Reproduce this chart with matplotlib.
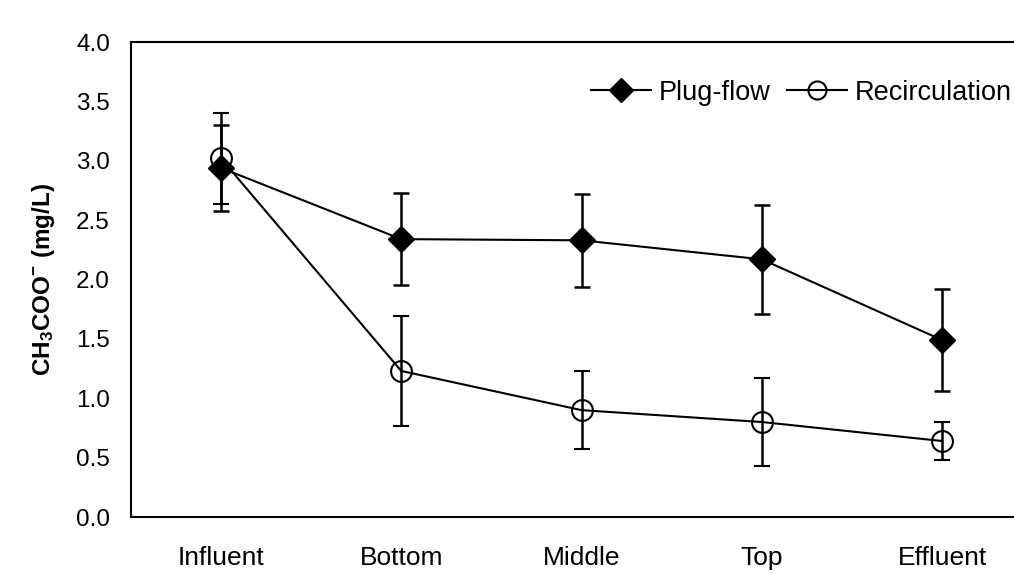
import matplotlib
matplotlib.use("Agg")
import matplotlib.pyplot as plt
from matplotlib.lines import Line2D
import numpy as np

categories = ["Influent", "Bottom", "Middle", "Top", "Effluent"]
plug_flow = [2.94, 2.34, 2.33, 2.17, 1.49]
plug_err = [0.36, 0.39, 0.39, 0.46, 0.43]
recirc = [3.02, 1.23, 0.90, 0.80, 0.64]
recirc_err = [0.38, 0.46, 0.33, 0.37, 0.16]
yticks = [0.0, 0.5, 1.0, 1.5, 2.0, 2.5, 3.0, 3.5, 4.0]

plt.rcParams['font.family'] = ['Liberation Sans', 'DejaVu Sans']
plt.rcParams['mathtext.default'] = 'regular'

fig = plt.figure(figsize=(10.14, 5.73), dpi=100)
ax = fig.add_axes([0.129, 0.0977, 0.889, 0.829])

x = np.arange(len(categories))
ax.errorbar(x, plug_flow, yerr=plug_err, color='black', marker='D', ms=13,
            mfc='black', mec='black', lw=1.5, elinewidth=1.8, capsize=6,
            capthick=1.8, zorder=3)
ax.errorbar(x, recirc, yerr=recirc_err, color='black', marker='o', ms=15,
            mfc='none', mec='black', mew=1.5, lw=1.5, elinewidth=1.8,
            capsize=6, capthick=1.8, zorder=3)

ax.set_xlim(-0.5, 4.5)
ax.set_ylim(0, 4.0)
ax.set_yticks(yticks)
ax.set_yticklabels([f"{v:.1f}" for v in yticks], fontsize=17.5)
ax.set_xticks(x)
ax.set_xticklabels(categories, fontsize=19)
ax.tick_params(axis='both', length=0)
ax.tick_params(axis='y', pad=15)
ax.tick_params(axis='x', pad=21)
for s in ['left', 'bottom', 'top']:
    ax.spines[s].set_linewidth(1.5)
ax.spines['right'].set_visible(False)

ax.set_ylabel('CH$_3$COO$^{-}$ (mg/L)', fontsize=17.5, fontweight='bold', labelpad=14)

handles = [
    Line2D([], [], color='black', lw=1.5, marker='D', ms=12, mfc='black', mec='black'),
    Line2D([], [], color='black', lw=1.5, marker='o', ms=13, mfc='none', mec='black', mew=1.5),
]
fig.legend(handles, ['Plug-flow', 'Recirculation'], loc='center left',
           bbox_to_anchor=(0.583, 0.838), ncol=2, frameon=False, fontsize=19.5,
           handlelength=2.2, columnspacing=0.6, handletextpad=0.3,
           borderaxespad=0.0, borderpad=0.0)

fig.savefig('out.png', dpi=100)
